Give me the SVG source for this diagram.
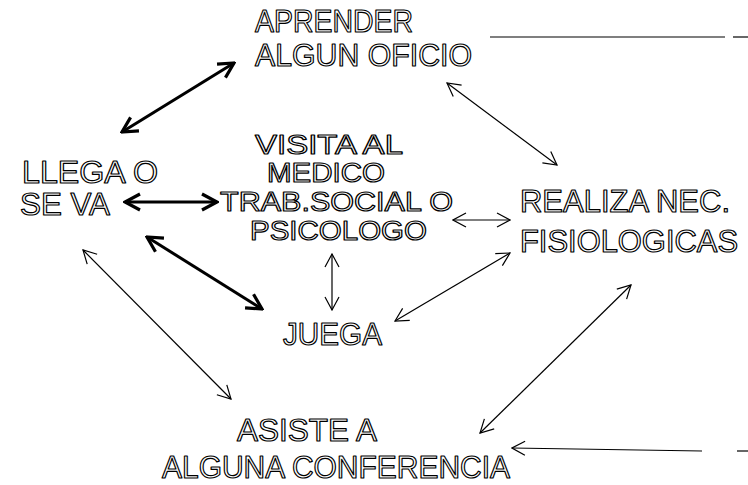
<svg xmlns="http://www.w3.org/2000/svg" width="748" height="485" viewBox="0 0 748 485">
<style>
.t{font-family:"Liberation Sans","DejaVu Sans",sans-serif;font-size:31px;fill:#fff;stroke:#000;stroke-width:1.2;stroke-linejoin:round}
.s{font-size:27px}
.thin{stroke:#000;stroke-width:1.2;fill:none}
.thick{stroke:#000;stroke-width:3;fill:none}
</style>
<defs>
<marker id="ah" viewBox="0 0 16 16" refX="15" refY="8" markerWidth="16" markerHeight="16" markerUnits="userSpaceOnUse" orient="auto-start-reverse">
<path d="M2,1 L15,8 L2,15" fill="none" stroke="#000" stroke-width="1.2"/>
</marker>
<marker id="ahb" viewBox="0 0 20 20" refX="18" refY="10" markerWidth="20" markerHeight="20" markerUnits="userSpaceOnUse" orient="auto-start-reverse">
<path d="M3,2 L18,10 L3,18" fill="none" stroke="#000" stroke-width="3.2" stroke-linejoin="miter"/>
</marker>
</defs>
<rect width="748" height="485" fill="#fff"/>
<g id="connectors">
<line class="thick" x1="122" y1="132" x2="234" y2="63" marker-start="url(#ahb)" marker-end="url(#ahb)"/>
<line class="thick" x1="125" y1="202" x2="217" y2="202" marker-start="url(#ahb)" marker-end="url(#ahb)"/>
<line class="thick" x1="147" y1="237" x2="262" y2="309" marker-start="url(#ahb)" marker-end="url(#ahb)" stroke-width="3.5"/>
<line class="thin" x1="83" y1="250" x2="231" y2="399" marker-start="url(#ah)" marker-end="url(#ah)"/>
<line class="thin" x1="447" y1="83" x2="557" y2="165" marker-start="url(#ah)" marker-end="url(#ah)"/>
<line class="thin" x1="453" y1="220" x2="510" y2="220" marker-start="url(#ah)" marker-end="url(#ah)"/>
<line class="thin" x1="332" y1="254" x2="332" y2="310" marker-start="url(#ah)" marker-end="url(#ah)"/>
<line class="thin" x1="510" y1="253" x2="395" y2="321" marker-start="url(#ah)" marker-end="url(#ah)"/>
<line class="thin" x1="631" y1="285" x2="480" y2="433" marker-start="url(#ah)" marker-end="url(#ah)"/>
<line class="thin" x1="702" y1="451" x2="512" y2="448" marker-end="url(#ah)" stroke-width="1.6"/>
<line class="thin" x1="737" y1="451" x2="748" y2="451" stroke-width="1.6"/>
<line class="thin" x1="490" y1="37" x2="725" y2="37" stroke-width="1.6"/>
<line class="thin" x1="733" y1="37" x2="748" y2="37" stroke-width="1.6"/>
</g>
<g id="aprender"><text class="t" x="255" y="32" textLength="158" lengthAdjust="spacingAndGlyphs">APRENDER</text><text class="t" x="255" y="66" textLength="217" lengthAdjust="spacingAndGlyphs">ALGUN OFICIO</text></g>
<g id="llega"><text class="t" x="22" y="183" textLength="136" lengthAdjust="spacingAndGlyphs">LLEGA  O</text><text class="t" x="20" y="215" textLength="90" lengthAdjust="spacingAndGlyphs">SE VA</text></g>
<g id="visita"><text class="t s" x="255" y="154" textLength="148" lengthAdjust="spacingAndGlyphs">VISITA AL</text><text class="t s" x="267" y="182" textLength="118" lengthAdjust="spacingAndGlyphs">MEDICO</text><text class="t s" x="220" y="211" textLength="233" lengthAdjust="spacingAndGlyphs">TRAB.SOCIAL O</text><text class="t s" x="250" y="240" textLength="177" lengthAdjust="spacingAndGlyphs">PSICOLOGO</text></g>
<g id="realiza"><text class="t" x="520" y="212" textLength="210" lengthAdjust="spacingAndGlyphs">REALIZA NEC.</text><text class="t" x="520" y="252" textLength="218" lengthAdjust="spacingAndGlyphs">FISIOLOGICAS</text></g>
<g id="juega"><text class="t" x="283" y="345" textLength="99" lengthAdjust="spacingAndGlyphs">JUEGA</text></g>
<g id="asiste"><text class="t" x="237" y="441" textLength="140" lengthAdjust="spacingAndGlyphs">ASISTE A</text><text class="t" x="162" y="478" textLength="348" lengthAdjust="spacingAndGlyphs">ALGUNA CONFERENCIA</text></g>
</svg>
